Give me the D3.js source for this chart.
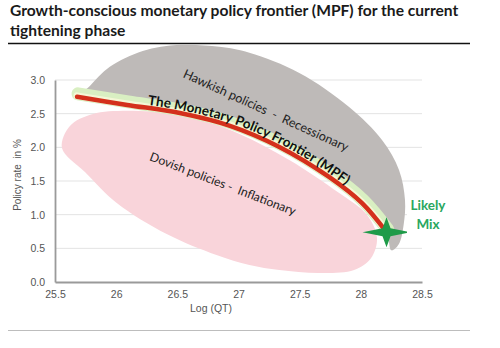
<!DOCTYPE html>
<html><head><meta charset="utf-8">
<script src="https://cdn.jsdelivr.net/npm/d3@7"></script>
<style>
html,body{margin:0;padding:0;background:#fff;}
svg{display:block;}
text{white-space:pre;}
</style></head>
<body>
<script>
// ---- data ----
const titleLines = ["Growth-conscious monetary policy frontier (MPF) for the current", "tightening phase"];
const xTicks = [25.5, 26, 26.5, 27, 27.5, 28, 28.5];
const xTickLabels = ["25.5", "26", "26.5", "27", "27.5", "28", "28.5"];
const yTicks = [0, 0.5, 1, 1.5, 2, 2.5, 3];
const yTickLabels = ["0.0", "0.5", "1.0", "1.5", "2.0", "2.5", "3.0"];
const xLabel = "Log (QT)";
const yLabel = "Policy rate  in %";

// Monetary policy frontier
const frontierX = [25.68, 26.09, 26.52, 26.93, 27.33, 27.74, 28.01, 28.21];
const frontierY = [2.75, 2.63, 2.51, 2.32, 2.01, 1.56, 1.17, 0.74];

// Hawkish zone upper edge (closed back along the frontier)
const hawkX = [25.70, 25.785, 25.948, 26.217, 26.519, 26.845, 27.089, 27.497, 27.904, 28.173, 28.312, 28.361, 28.35, 28.31, 28.25];
const hawkY = [2.75, 2.912, 3.195, 3.432, 3.522, 3.492, 3.403, 3.105, 2.600, 2.110, 1.664, 1.218, 0.85, 0.56, 0.47];

// Dovish zone outline
const doveX = [25.557, 25.622, 25.810, 26.193, 26.600, 27.008, 27.415, 27.823, 28.051, 28.132, 28.084, 27.945, 27.660, 27.334, 27.089, 26.820, 26.413, 26.005, 25.745];
const doveY = [1.991, 2.318, 2.496, 2.541, 2.467, 2.199, 1.813, 1.322, 0.996, 0.654, 0.357, 0.178, 0.134, 0.178, 0.253, 0.401, 0.713, 1.174, 1.634];

const mixX = [28.21];
const mixY = [0.74];

const zoneLabels = ["Hawkish policies  -  Recessionary", "Dovish policies -  Inflationary"];
const mpfLabel = "The Monetary Policy Frontier (MPF)";
const mixLabel = ["Likely", "Mix"];

// ---- drawing ----
const W = 500, H = 348;
const svg = d3.select("body").append("svg").attr("width", W).attr("height", H);

const x = d3.scaleLinear().domain([25.5, 28.5]).range([55, 422]);
const y = d3.scaleLinear().domain([0, 3]).range([282, 80]);

// title
svg.append("g").selectAll("text").data(titleLines).join("text")
  .attr("x", 10).attr("y", (d, i) => 16 + i * 19.5)
  .attr("font-family", "Lato, 'Open Sans', sans-serif")
  .attr("font-weight", 700).attr("font-size", 15.6).attr("fill", "#1a1a1a")
  .text(d => d);
svg.append("line").attr("x1", 8).attr("x2", 470).attr("y1", 43.5).attr("y2", 43.5)
  .attr("stroke", "#111").attr("stroke-width", 1.6);
svg.append("line").attr("x1", 8).attr("x2", 470).attr("y1", 330.5).attr("y2", 330.5)
  .attr("stroke", "#bdbdbd").attr("stroke-width", 1.2);

// gridlines
svg.append("g").selectAll("line").data(yTicks.filter(d => d > 0)).join("line")
  .attr("x1", x(25.5)).attr("x2", x(28.5))
  .attr("y1", d => y(d)).attr("y2", d => y(d))
  .attr("stroke", "#e3e3e3").attr("stroke-width", 1);

// axes
const xAxis = d3.axisBottom(x).tickValues(xTicks).tickFormat((d, i) => xTickLabels[i]).tickSize(0).tickPadding(9);
const yAxis = d3.axisLeft(y).tickValues(yTicks).tickFormat((d, i) => yTickLabels[i]).tickSize(0).tickPadding(10);
const gx = svg.append("g").attr("transform", `translate(0,${y(0)})`).call(xAxis);
const gy = svg.append("g").attr("transform", `translate(${x(25.5)},0)`).call(yAxis);
[gx, gy].forEach(g => {
  g.select(".domain").attr("stroke", "#9a9a9a").attr("stroke-width", 1.8);
  g.selectAll("text").attr("font-family", "'Liberation Sans', Arial, sans-serif")
    .attr("font-size", 10.5).attr("fill", "#555");
});

svg.append("text").attr("x", 211).attr("y", 312).attr("text-anchor", "middle")
  .attr("font-family", "'Liberation Sans', Arial, sans-serif").attr("font-size", 10.5).attr("fill", "#555")
  .text(xLabel);
svg.append("text").attr("transform", "translate(21,175) rotate(-90)").attr("text-anchor", "middle")
  .attr("font-family", "'Liberation Sans', Arial, sans-serif").attr("font-size", 10).attr("fill", "#555")
  .text(yLabel);

// zones
const pts = (xs, ys) => xs.map((v, i) => [x(v), y(ys[i])]);
const frontierPts = pts(frontierX, frontierY);
const hawkPts = pts(hawkX, hawkY).concat(frontierPts.slice(1).reverse());
const closed = d3.line().curve(d3.curveCatmullRomClosed.alpha(0.5));
svg.append("path").attr("d", closed(hawkPts)).attr("fill", "#bebab8");
svg.append("path").attr("d", closed(pts(doveX, doveY))).attr("fill", "#f9d4da");

// frontier
const lineGen = d3.line().curve(d3.curveCatmullRom.alpha(0.5));
svg.append("path").attr("d", lineGen(frontierPts)).attr("fill", "none")
  .attr("stroke", "#d9efc2").attr("stroke-width", 13).attr("stroke-linecap", "round")
  .attr("transform", "translate(1,-3)");
svg.append("path").attr("d", lineGen(frontierPts)).attr("fill", "none")
  .attr("stroke", "#f4f7d6").attr("stroke-width", 7).attr("stroke-linecap", "round")
  .attr("transform", "translate(0,-1)");
const fpath = svg.append("path").attr("id", "mpf").attr("d", lineGen(frontierPts)).attr("fill", "none")
  .attr("stroke", "#d4301c").attr("stroke-width", 4.5).attr("stroke-linecap", "round");

// zone labels
svg.append("text").attr("transform", `translate(${x(27.21)},${y(2.49)}) rotate(24.5)`)
  .attr("text-anchor", "middle").attr("font-family", "Lato, sans-serif").attr("font-size", 12.5)
  .attr("fill", "#222").text(zoneLabels[0]);
svg.append("text").attr("transform", `translate(${x(26.86)},${y(1.4)}) rotate(21)`)
  .attr("text-anchor", "middle").attr("font-family", "Lato, sans-serif").attr("font-size", 12.2)
  .attr("fill", "#222").text(zoneLabels[1]);

// MPF label along frontier
const node = fpath.node();
const total = node.getTotalLength();
let startLen = 0;
for (let l = 0; l < total; l += 0.5) { if (node.getPointAtLength(l).x >= 147) { startLen = l; break; } }
svg.append("text").attr("font-family", "Lato, sans-serif").attr("font-weight", 700)
  .attr("font-size", 13.5).attr("fill", "#111").attr("dy", -3)
  .append("textPath").attr("href", "#mpf").attr("startOffset", startLen).text(mpfLabel);

// Likely mix star
const cx = x(mixX[0]), cy = y(mixY[0]);
const sh = 24, sv = 15, si = 4;
const star = [[sh, 0], [si, -si], [0, -sv], [-si, -si], [-sh, 0], [-si, si], [0, sv], [si, si]]
  .map(p => [cx + p[0], cy + p[1]]);
svg.append("path").attr("d", d3.line().curve(d3.curveLinearClosed)(star)).attr("fill", "#1f9b49");

svg.append("rect").attr("x", 407).attr("y", 196).attr("width", 42).attr("height", 38).attr("fill", "#fff");
svg.append("g").selectAll("text").data(mixLabel).join("text")
  .attr("x", 428).attr("y", (d, i) => 210 + i * 19).attr("text-anchor", "middle")
  .attr("font-family", "Lato, 'Open Sans', sans-serif").attr("font-weight", 700)
  .attr("font-size", 13.5).attr("fill", "#2aa760").text(d => d);
</script>
</body></html>
